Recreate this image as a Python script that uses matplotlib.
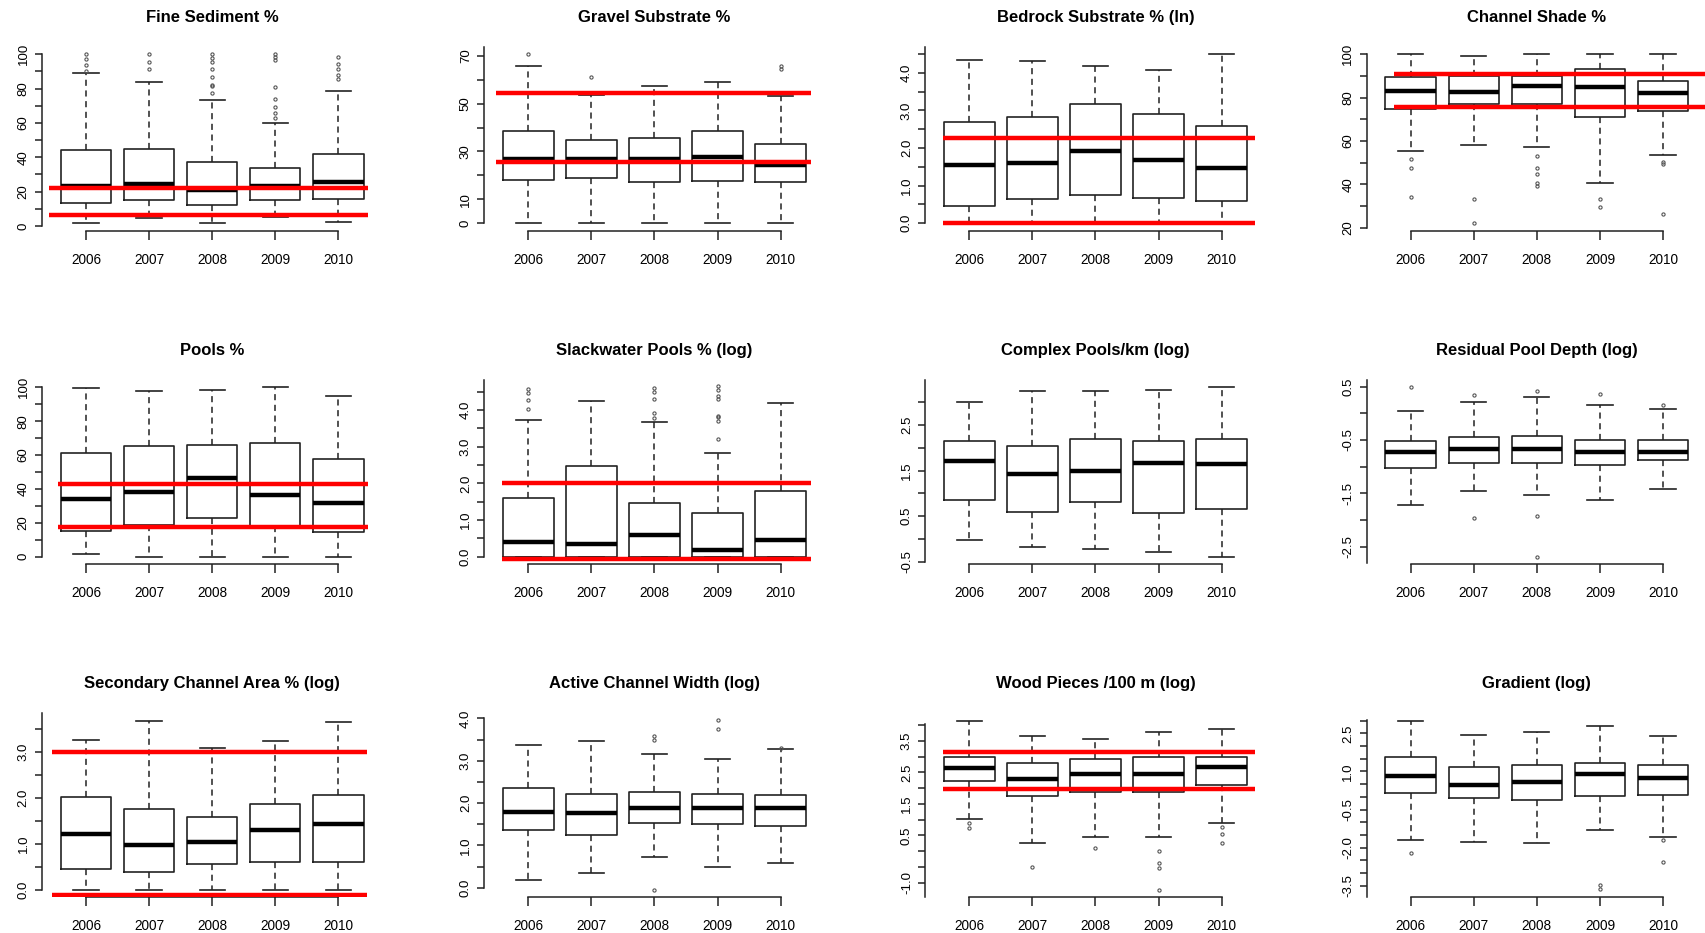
import numpy as np
import matplotlib.pyplot as plt

plt.rcParams['font.family'] = ['Liberation Sans', 'DejaVu Sans']

years = ['2006', '2007', '2008', '2009', '2010']

# per year: (lower whisker, Q1, median, Q3, upper whisker)
fine_box = [(1.6, 13.6, 23.0, 44.1, 89.3), (4.5, 15.0, 24.5, 45.0, 84.1), (1.6, 12.0, 21.0, 37.3, 73.6),
            (5.0, 15.0, 23.0, 33.6, 60.0), (2.5, 15.7, 25.6, 41.9, 78.8)]
fine_out = [[90.5, 93.8, 97.0, 100.0], [91.3, 95.7, 100.0],
            [77.3, 81.6, 82.3, 86.6, 91.3, 95.5, 97.7, 100.0],
            [62.7, 65.6, 69.5, 73.8, 80.8, 96.7, 98.6, 100.0], [85.4, 87.8, 91.3, 94.4, 98.6]]
fine_ref = [21.9, 6.6]

gravel_box = [(0, 18.2, 27.0, 38.7, 65.5), (0, 18.8, 27.0, 34.8, 53.6), (0, 17.1, 26.7, 35.5, 57.5),
              (0, 17.7, 27.8, 38.7, 59.1), (0, 17.1, 24.4, 33.3, 53.2)]
gravel_out = [[70.6], [61.2], [], [], [64.4, 65.8]]
gravel_ref = [54.6, 25.5]

bedrock_box = [(0, 0.47, 1.54, 2.69, 4.34), (0, 0.64, 1.60, 2.81, 4.30), (0, 0.75, 1.91, 3.17, 4.19),
               (0, 0.68, 1.67, 2.89, 4.06), (0, 0.58, 1.46, 2.59, 4.49)]
bedrock_out = [[], [], [], [], []]
bedrock_ref = [2.26, 0.02]

shade_box = [(55.2, 74.8, 83.2, 89.7, 100), (58.2, 77.2, 82.5, 90.0, 99.2), (57.1, 77.2, 85.5, 90.0, 100),
             (40.5, 71.2, 84.8, 93.2, 100), (53.5, 73.7, 82.0, 87.8, 100)]
shade_out = [[34.3, 47.4, 51.7], [22.0, 33.1], [39.2, 40.8, 44.9, 47.7, 53.1], [29.7, 33.1], [26.2, 49.4, 50.2]]
shade_ref = [90.9, 75.8]

pools_box = [(1.6, 15.2, 34.1, 61.4, 99.4), (0, 18.5, 38.0, 65.2, 97.8), (0, 22.6, 46.3, 65.9, 98.4),
             (0, 18.1, 36.4, 67.3, 100), (0, 14.4, 31.9, 57.7, 94.9)]
pools_out = [[], [], [], [], []]
pools_ref = [42.9, 17.7]

slack_box = [(0, 0, 0.39, 1.61, 3.72), (0, 0, 0.35, 2.48, 4.25), (0, 0, 0.59, 1.46, 3.68),
             (0, 0, 0.17, 1.19, 2.84), (0, 0, 0.45, 1.78, 4.18)]
slack_out = [[4.02, 4.27, 4.45, 4.56], [], [3.79, 3.93, 4.29, 4.50, 4.59],
             [3.20, 3.71, 3.80, 3.84, 4.29, 4.38, 4.55, 4.64], []]
slack_ref = [2.0, -0.05]

complex_box = [(-0.02, 0.85, 1.70, 2.15, 3.0), (-0.17, 0.59, 1.42, 2.03, 3.25), (-0.22, 0.80, 1.50, 2.19, 3.25),
               (-0.28, 0.57, 1.67, 2.15, 3.28), (-0.40, 0.66, 1.64, 2.19, 3.33)]
complex_out = [[], [], [], [], []]
complex_ref = []

depth_box = [(-1.72, -1.02, -0.73, -0.52, 0.04), (-1.46, -0.93, -0.66, -0.44, 0.21),
             (-1.53, -0.93, -0.66, -0.42, 0.31), (-1.63, -0.96, -0.73, -0.49, 0.16),
             (-1.41, -0.88, -0.73, -0.49, 0.08)]
depth_out = [[0.50], [-1.97, 0.35], [-2.69, -1.92, 0.42], [0.37], [0.16]]
depth_ref = []

second_box = [(0, 0.46, 1.21, 2.02, 3.27), (0, 0.39, 0.98, 1.76, 3.69), (0, 0.56, 1.05, 1.60, 3.10),
              (0, 0.62, 1.31, 1.87, 3.25), (0, 0.62, 1.43, 2.07, 3.67)]
second_out = [[], [], [], [], []]
second_ref = [3.01, -0.11]

width_box = [(0.18, 1.37, 1.80, 2.35, 3.37), (0.34, 1.24, 1.76, 2.21, 3.47), (0.73, 1.52, 1.89, 2.27, 3.16),
             (0.48, 1.50, 1.89, 2.21, 3.04), (0.59, 1.46, 1.89, 2.19, 3.28)]
width_out = [[], [], [-0.06, 3.49, 3.58], [3.76, 3.96], [3.31]]
width_ref = []

wood_box = [(1.01, 2.23, 2.65, 3.0, 4.15), (0.27, 1.74, 2.28, 2.80, 3.66), (0.44, 1.87, 2.44, 2.93, 3.57),
            (0.44, 1.89, 2.44, 3.0, 3.80), (0.88, 2.11, 2.68, 3.0, 3.87)]
wood_out = [[0.75, 0.88], [-0.49], [0.11], [-1.24, -0.55, -0.39, 0.0], [0.27, 0.53, 0.78]]
wood_ref = [3.15, 1.97]

grad_box = [(-1.70, 0.16, 0.83, 1.58, 3.0), (-1.77, -0.03, 0.47, 1.19, 2.45), (-1.81, -0.14, 0.57, 1.24, 2.57),
            (-1.31, 0.02, 0.89, 1.34, 2.80), (-1.57, 0.07, 0.73, 1.24, 2.39)]
grad_out = [[-2.2], [], [], [-3.64, -3.47], [-2.55, -1.70]]
grad_ref = []

panels = [
    ("Fine Sediment %", fine_box, fine_out, fine_ref),
    ("Gravel Substrate %", gravel_box, gravel_out, gravel_ref),
    ("Bedrock Substrate % (ln)", bedrock_box, bedrock_out, bedrock_ref),
    ("Channel Shade %", shade_box, shade_out, shade_ref),
    ("Pools %", pools_box, pools_out, pools_ref),
    ("Slackwater Pools % (log)", slack_box, slack_out, slack_ref),
    ("Complex Pools/km (log)", complex_box, complex_out, complex_ref),
    ("Residual Pool Depth (log)", depth_box, depth_out, depth_ref),
    ("Secondary Channel Area % (log)", second_box, second_out, second_ref),
    ("Active Channel Width (log)", width_box, width_out, width_ref),
    ("Wood Pieces /100 m (log)", wood_box, wood_out, wood_ref),
    ("Gradient (log)", grad_box, grad_out, grad_ref),
]

# axis setup per panel: ylim, tick (start, stop, step), labelled ticks, left spine span
ylims = [(-2.74, 104.4), (-3.09, 73.77), (-0.197, 4.69), (18.62, 103.5),
         (-4.01, 104.6), (-0.185, 4.83), (-0.54, 3.50), (-2.815, 0.635),
         (-0.142, 3.867), (-0.208, 4.139), (-1.44, 4.405), (-3.925, 3.32)]
tick_runs = [(0, 100, 10), (0, 70, 10), (0, 4.5, 0.5), (20, 100, 10),
             (0, 100, 10), (0, 4.5, 0.5), (-0.5, 3.0, 0.5), (-2.5, 0.5, 0.5),
             (0, 3.5, 0.5), (0, 4.0, 0.5), (-1.0, 4.0, 0.5), (-3.5, 3.0, 0.5)]
tick_text = [["0", "20", "40", "60", "80", "100"], ["0", "10", "30", "50", "70"],
             ["0.0", "1.0", "2.0", "3.0", "4.0"], ["20", "40", "60", "80", "100"],
             ["0", "20", "40", "60", "80", "100"], ["0.0", "1.0", "2.0", "3.0", "4.0"],
             ["-0.5", "0.5", "1.5", "2.5"], ["-2.5", "-1.5", "-0.5", "0.5"],
             ["0.0", "1.0", "2.0", "3.0"], ["0.0", "1.0", "2.0", "3.0", "4.0"],
             ["-1.0", "0.5", "1.5", "2.5", "3.5"], ["-3.5", "-2.0", "-0.5", "1.0", "2.5"]]
spine_span = [(0, 100), (0, 73.7), (0, 4.69), (20, 100),
              (0, 100), (0, 4.82), (-0.5, 3.49), (-2.81, 0.625),
              (0, 3.85), (0, 4.0), (-1.44, 4.03), (-3.93, 3.03)]
ref_span = [(0.42, 5.47), (0.49, 5.48), (0.59, 5.53), (0.74, 5.9),
            (0.55, 5.47), (0.58, 5.48), None, None,
            (0.46, 5.46), None, (0.59, 5.53), None]

W, H = 1705, 933
col_left = [41.8, 484.1, 925.1, 1366.5]
row_top = [46.7, 379.5, 712.5]
ax_w, ax_h = 340.7, 184.0

fig = plt.figure(figsize=(W / 100, H / 100), dpi=100)

for i, (title, box, out, ref) in enumerate(panels):
    r, c = divmod(i, 4)
    ax = fig.add_axes([col_left[c] / W, 1 - (row_top[r] + ax_h) / H, ax_w / W, ax_h / H])
    stats = [dict(whislo=b[0], q1=b[1], med=b[2], q3=b[3], whishi=b[4], fliers=o)
             for b, o in zip(box, out)]
    ax.bxp(stats, positions=range(1, 6), widths=0.8, capwidths=0.4,
           boxprops=dict(color='#222222', linewidth=1.2),
           medianprops=dict(color='black', linewidth=3.2, solid_capstyle='butt'),
           whiskerprops=dict(color='#222222', linewidth=1.1, linestyle=(0, (4, 3))),
           capprops=dict(color='#222222', linewidth=1.2),
           flierprops=dict(marker='o', markersize=2.3, markerfacecolor='none',
                           markeredgecolor='#555555', markeredgewidth=0.8))

    if ref_span[i] is not None:
        x0, x1 = ref_span[i]
        for v in ref:
            ax.plot([x0, x1], [v, v], color='#ff0000', lw=3.2, solid_capstyle='butt', zorder=6)

    ax.set_xlim(0.3, 5.7)
    ax.set_ylim(*ylims[i])
    ax.set_xticks(range(1, 6), years)

    a, b, s = tick_runs[i]
    ticks = np.round(np.arange(a, b + s / 2, s), 2)
    labelled = {float(t): t for t in tick_text[i]}
    ax.set_yticks(ticks, [labelled.get(float(t), "") for t in ticks])
    for lab in ax.get_yticklabels():
        lab.set_rotation(90)
        lab.set_va('center')

    for side in ('top', 'right'):
        ax.spines[side].set_visible(False)
    ax.spines['left'].set_bounds(*spine_span[i])
    ax.spines['bottom'].set_bounds(1, 5)
    for side in ('left', 'bottom'):
        ax.spines[side].set_color('#222222')
        ax.spines[side].set_linewidth(1.1)

    ax.tick_params(axis='x', length=6.3, width=1.1, pad=10, labelsize=9.8, color='#222222')
    ax.tick_params(axis='y', length=5.3, width=1.1, pad=3.5, labelsize=9.5, color='#222222')

    ax.text(0.5, 1 + 29 / ax_h, title, transform=ax.transAxes, ha='center', va='center',
            fontsize=12, fontweight='bold')

fig.savefig('out.png', dpi=100)
